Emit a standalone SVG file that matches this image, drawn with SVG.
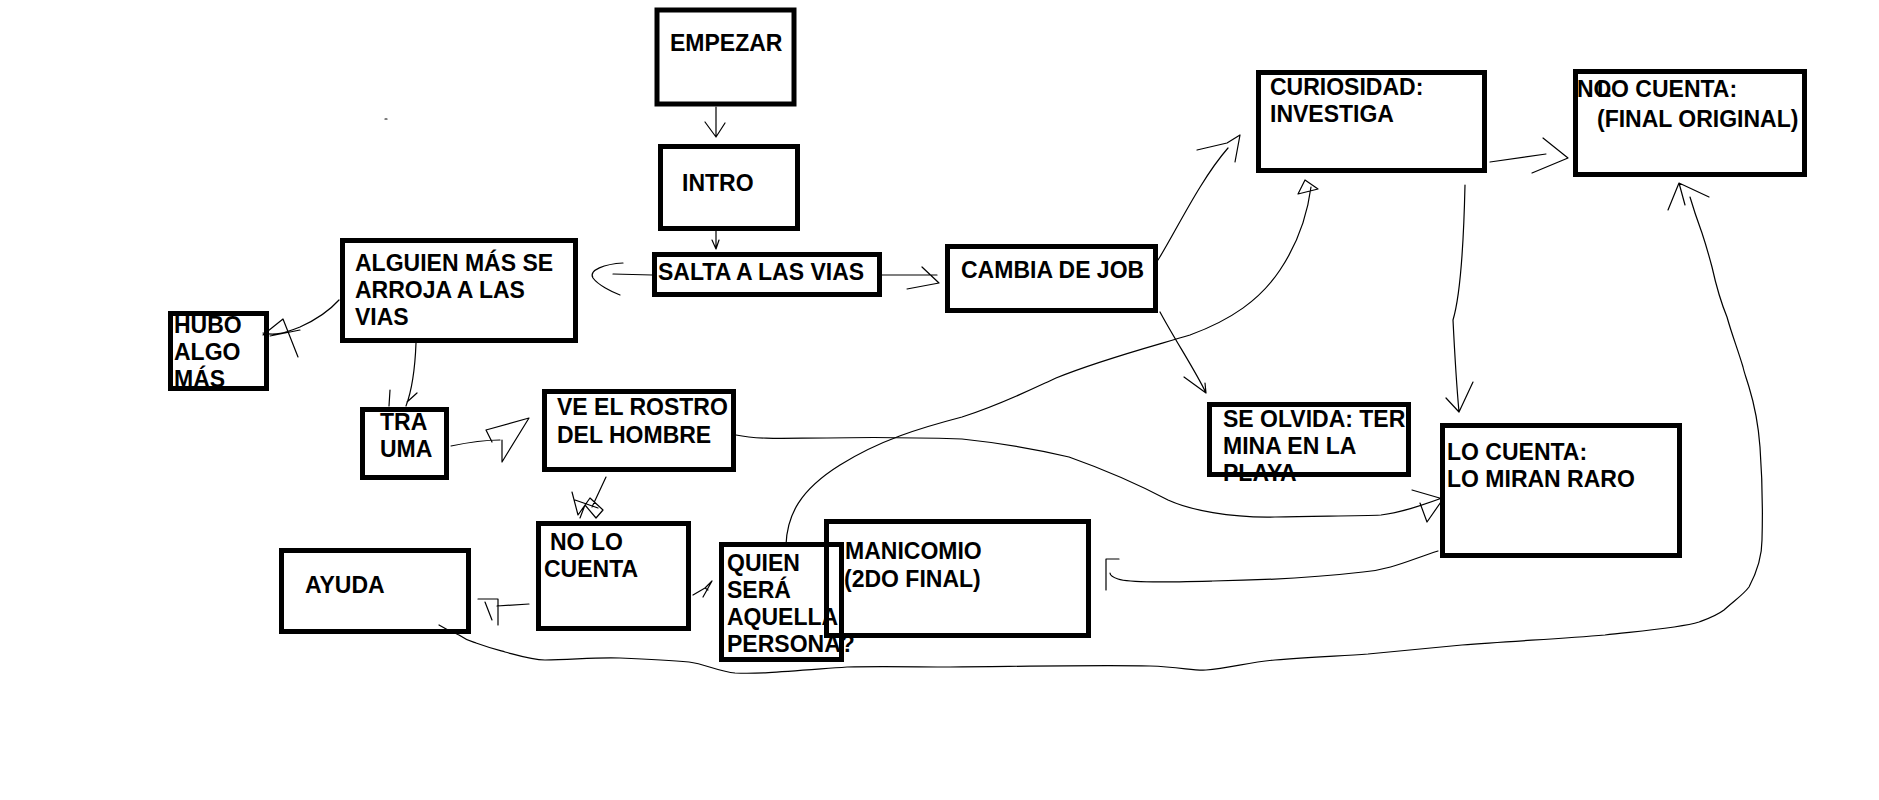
<svg xmlns="http://www.w3.org/2000/svg" width="1879" height="800" viewBox="0 0 1879 800">
<style>
.box{fill:none;stroke:#000;stroke-width:5}
.t{font-family:"Liberation Sans",Arial,sans-serif;font-weight:bold;font-size:23px;fill:#000}
.c{fill:none;stroke:#000;stroke-width:1.2;stroke-linejoin:round;stroke-linecap:round}
</style>
<rect width="1879" height="800" fill="#fff"/>
<g id="connectors">
<path class="c" d="M716,107 L716,136 M705,122 L716,137 L725,123"/>
<path class="c" d="M716,231 L716,248 M712,240 L716,249 L719,240"/>
<path class="c" d="M652,275 L613,274 M623,263 C605,264 588,270 593,278 C598,285 612,292 620,295"/>
<path class="c" d="M882,275 L937,275 M922,267 L939,283 L907,289"/>
<path class="c" d="M339,300 C330,310 320,318 300,327 C285,333 275,336 263,333 M283,319 L263,335 M283,319 L298,357 M270,336 L300,330"/>
<path class="c" d="M416,343 C415,370 412,390 406,406 M390,390 L389,406 M417,393 L407,402"/>
<path class="c" d="M451,446 C470,442 485,440 500,440 M486,430 L529,418 L502,462 L502,440 M486,430 L492,442"/>
<path class="c" d="M606,477 L592,507 M572,492 L578,515 L590,498 L603,510 L596,518 L585,505 L580,518 M575,500 L598,508"/>
<path class="c" d="M529,604 L497,606 M478,599 L498,599 L498,625 M485,602 L492,620"/>
<path class="c" d="M693,595 L705,588 L712,581 L703,597 M705,588 L708,590"/>
<path class="c" d="M786,545 C787,515 800,490 840,465 C880,440 920,428 962,417 C1000,405 1030,390 1056,378 C1100,360 1150,347 1190,335 C1231,320 1260,300 1280,270 C1300,240 1308,210 1311,187 M1305,180 L1318,189 L1298,194 Z"/>
<path class="c" d="M736,435 C760,440 790,438 827,438 C870,437 900,437 962,439 C1000,443 1040,450 1069,457 C1100,468 1130,480 1168,500 C1190,510 1230,518 1275,517 C1320,516 1360,516 1381,515 C1400,513 1420,506 1442,498 M1412,490 L1443,499 L1427,522 L1420,503"/>
<path class="c" d="M1438,551 C1410,560 1390,570 1363,572 C1320,577 1280,580 1213,581 C1170,582 1130,583 1118,579 C1112,577 1110,575 1110,573 M1106,590 L1106,559 L1119,559"/>
<path class="c" d="M1158,260 C1175,233 1200,180 1228,148 M1197,150 L1227,143 L1240,135 L1235,162"/>
<path class="c" d="M1160,312 C1175,340 1195,370 1206,393 M1184,377 L1206,393 L1205,383"/>
<path class="c" d="M1490,162 L1546,154 M1543,138 L1568,158 L1532,173"/>
<path class="c" d="M1465,185 C1464,230 1462,290 1453,320 C1455,360 1457,390 1459,412 M1446,398 L1459,412 L1473,382"/>
<path class="c" d="M439,625 C447,630 452,632 459,635 C466,640 470,641 476,643 C490,648 498,650 505,652 C520,656 532,660 545,660 C570,660 595,657 620,658 C645,659 668,660 689,662 C705,664 720,672 735,673 C760,674 780,672 847,667 C880,666 920,667 950,667 C1050,666 1100,665 1150,666 C1180,667 1195,671 1206,670 C1230,668 1250,662 1275,660 C1310,657 1340,656 1368,654 C1400,651 1430,648 1462,645 C1510,641 1560,639 1605,635 C1640,631 1680,628 1699,622 C1710,618 1716,616 1724,610 C1735,600 1743,595 1749,587 C1758,570 1762,555 1762,540 C1763,505 1762,475 1760,447 C1758,420 1753,400 1749,387 C1746,377 1744,372 1743,367 C1738,350 1732,335 1727,317 C1720,300 1716,285 1712,267 C1708,252 1705,242 1702,233 C1698,222 1695,214 1690,197 M1668,210 L1679,183 L1709,197 M1679,183 L1685,205"/>
<path class="c" stroke="#999" d="M385,119 L387,119"/>
</g>
<g id="n-empezar"><rect class="box" x="657" y="10" width="137" height="94"/><text class="t" x="670" y="51">EMPEZAR</text></g>
<g id="n-intro"><rect class="box" x="660.5" y="146.5" width="137" height="82"/><text class="t" x="682" y="191">INTRO</text></g>
<g id="n-salta"><rect class="box" x="654.5" y="254.5" width="225" height="40"/><text class="t" x="658" y="280">SALTA A LAS VIAS</text></g>
<g id="n-alguien"><rect class="box" x="342.5" y="240.5" width="233" height="100"/><text class="t" x="355" y="271">ALGUIEN MÁS SE</text><text class="t" x="355" y="298">ARROJA A LAS</text><text class="t" x="355" y="325">VIAS</text></g>
<g id="n-hubo"><text class="t" x="174" y="333">HUBO</text><text class="t" x="174" y="360">ALGO</text><text class="t" x="174" y="387">MÁS</text><rect class="box" x="170.5" y="313.5" width="96" height="75"/></g>
<g id="n-trauma"><rect class="box" x="362.5" y="409.5" width="84" height="68"/><text class="t" x="380" y="430">TRA</text><text class="t" x="380" y="457">UMA</text></g>
<g id="n-rostro"><rect class="box" x="544.5" y="391.5" width="189" height="78"/><text class="t" x="557" y="415">VE EL ROSTRO</text><text class="t" x="557" y="443">DEL HOMBRE</text></g>
<g id="n-nolo"><rect class="box" x="538.5" y="523.5" width="150" height="105"/><text class="t" x="550" y="550">NO LO</text><text class="t" x="544" y="577">CUENTA</text></g>
<g id="n-ayuda"><rect class="box" x="281.5" y="550.5" width="187" height="81"/><text class="t" x="305" y="593">AYUDA</text></g>
<g id="n-quien"><rect class="box" x="721.5" y="544.5" width="120" height="115"/><text class="t" x="727" y="571">QUIEN</text><text class="t" x="727" y="598">SERÁ</text><text class="t" x="727" y="625">AQUELLA</text><text class="t" x="727" y="652">PERSONA?</text></g>
<g id="n-manicomio"><rect class="box" x="826.5" y="521.5" width="262" height="114"/><text class="t" x="845" y="559">MANICOMIO</text><text class="t" x="844" y="587">(2DO FINAL)</text></g>
<g id="n-cambia"><rect class="box" x="947.5" y="246.5" width="208" height="64"/><text class="t" x="961" y="278">CAMBIA DE JOB</text></g>
<g id="n-curiosidad"><rect class="box" x="1258.5" y="72.5" width="226" height="98"/><text class="t" x="1270" y="95">CURIOSIDAD:</text><text class="t" x="1270" y="122">INVESTIGA</text></g>
<g id="n-final"><rect class="box" x="1575.5" y="71.5" width="229" height="103"/><text class="t" x="1577" y="97">NO</text><text class="t" x="1597" y="97">LO CUENTA:</text><text class="t" x="1597" y="127">(FINAL ORIGINAL)</text></g>
<g id="n-olvida"><text class="t" x="1223" y="427">SE OLVIDA: TER</text><text class="t" x="1223" y="454">MINA EN LA</text><text class="t" x="1223" y="481">PLAYA</text><rect class="box" x="1209.5" y="404.5" width="199" height="70"/></g>
<g id="n-miran"><rect class="box" x="1442.5" y="425.5" width="237" height="130"/><text class="t" x="1447" y="460">LO CUENTA:</text><text class="t" x="1447" y="487">LO MIRAN RARO</text></g>
</svg>
